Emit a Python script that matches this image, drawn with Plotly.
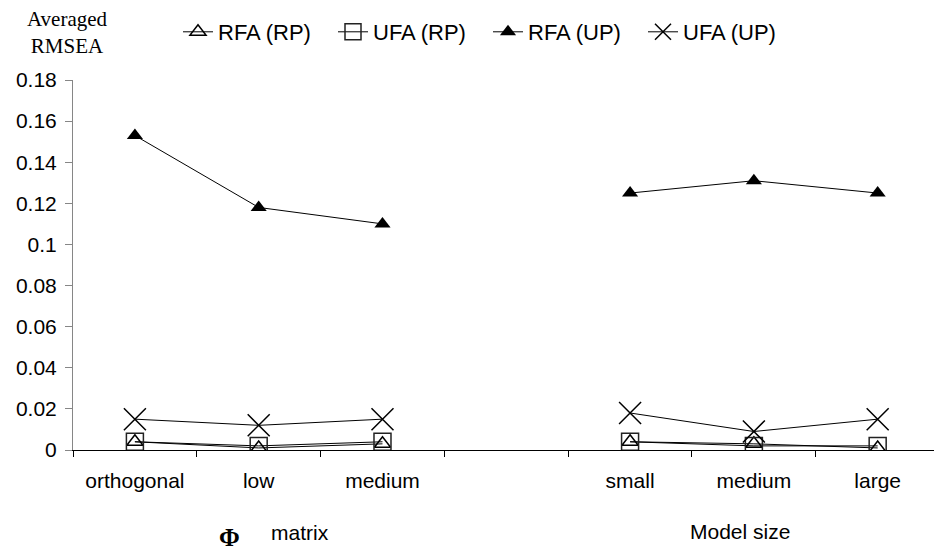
import plotly.graph_objects as go

# Categories (a blank slot separates the two groups)
categories = ["orthogonal", "low", "medium", " ", "small", "medium ", "large"]
tick_labels = ["orthogonal", "low", "medium", "", "small", "medium", "large"]

rfa_rp = [0.004, 0.001, 0.003, None, 0.004, 0.003, 0.001]
ufa_rp = [0.004, 0.002, 0.004, None, 0.004, 0.002, 0.002]
rfa_up = [0.153, 0.118, 0.110, None, 0.125, 0.131, 0.125]
ufa_up = [0.015, 0.012, 0.015, None, 0.018, 0.009, 0.015]

y_ticks = [0, 0.02, 0.04, 0.06, 0.08, 0.1, 0.12, 0.14, 0.16, 0.18]
y_tick_text = ["0", "0.02", "0.04", "0.06", "0.08", "0.1", "0.12", "0.14", "0.16", "0.18"]

SANS = "Liberation Sans, Arial, sans-serif"
SERIF = "Liberation Serif, Times New Roman, serif"

fig = go.Figure()

series = [
    ("RFA (RP)", rfa_rp, dict(symbol="triangle-up-open", size=14, color="black", line=dict(width=1.5, color="black"))),
    ("UFA (RP)", ufa_rp, dict(symbol="square-open", size=17, color="#222", line=dict(width=1.5, color="#222"))),
    ("RFA (UP)", rfa_up, dict(symbol="triangle-up", size=14, color="black", line=dict(width=0))),
    ("UFA (UP)", ufa_up, dict(symbol="x-thin-open", size=22, color="black", line=dict(width=1.5, color="black"))),
]
for name, vals, mk in series:
    fig.add_trace(go.Scatter(
        x=categories, y=vals, name=name, mode="lines+markers",
        line=dict(color="black", width=1), marker=mk, connectgaps=False,
    ))

fig.update_layout(
    width=934, height=551,
    margin=dict(l=73, r=0, t=80, b=101),
    plot_bgcolor="white", paper_bgcolor="white",
    font=dict(family=SANS, size=21, color="black"),
    showlegend=True,
    legend=dict(
        orientation="h", x=(178 - 73) / 861, xanchor="left",
        y=1 + (80 - 11) / 370, yanchor="top",
        font=dict(family=SANS, size=22, color="black"),
        bgcolor="rgba(0,0,0,0)", itemwidth=30, tracegroupgap=0,
        entrywidth=110, entrywidthmode="pixels",
    ),
    xaxis=dict(
        type="category", categoryorder="array", categoryarray=categories,
        tickmode="array", tickvals=categories, ticktext=tick_labels,
        range=[-0.5, 6.455], tickson="boundaries",
        ticks="outside", ticklen=6, tickcolor="black", tickwidth=1,
        showline=True, linecolor="black", linewidth=1,
        showgrid=False, zeroline=False,
        tickfont=dict(family=SANS, size=21), ticklabelstandoff=12,
    ),
    yaxis=dict(
        range=[0, 0.18], tickmode="array", tickvals=y_ticks, ticktext=y_tick_text,
        ticks="outside", ticklen=7, tickcolor="#868686", tickwidth=1,
        showline=True, linecolor="#868686", linewidth=1,
        showgrid=False, zeroline=False,
        tickfont=dict(family=SANS, size=21), ticklabelstandoff=4,
    ),
    annotations=[
        dict(text="Averaged<br>RMSEA", xref="paper", yref="paper",
             x=(67 - 73) / 861, y=1 + (80 - 32) / 370, xanchor="center", yanchor="middle",
             showarrow=False, font=dict(family=SERIF, size=21, color="black")),
        dict(text="<b>Φ</b>", xref="paper", yref="paper",
             x=(229 - 73) / 861, y=(450 - 537) / 370, xanchor="center", yanchor="middle",
             showarrow=False, font=dict(family=SERIF, size=25, color="black")),
        dict(text="matrix", xref="paper", yref="paper",
             x=(300 - 73) / 861, y=(450 - 532) / 370, xanchor="center", yanchor="middle",
             showarrow=False, font=dict(family=SANS, size=21, color="black")),
        dict(text="Model size", xref="paper", yref="paper",
             x=(740 - 73) / 861, y=(450 - 531) / 370, xanchor="center", yanchor="middle",
             showarrow=False, font=dict(family=SANS, size=21, color="black")),
    ],
)

fig.write_html("out.html")
